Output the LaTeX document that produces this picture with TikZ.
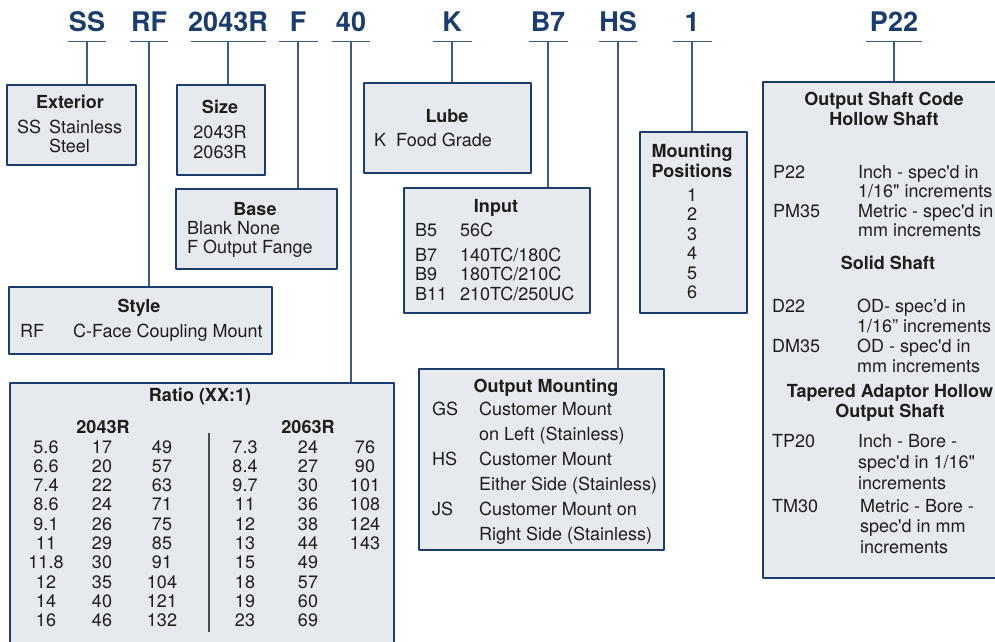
\documentclass[tikz,border=0pt]{standalone}
\usepackage{fontspec}
\setmainfont{TeX Gyre Heros}
\definecolor{navy}{HTML}{1B3D6B}
\definecolor{boxfill}{HTML}{E6E9EE}
\definecolor{ink}{HTML}{1E1E1E}
\newcommand\sqt{\textquotesingle}
\newcommand\dqt{\textquotedbl}
\newcommand\lstack[1]{\begin{tabular}[t]{@{}l@{}}#1\end{tabular}}
\newcommand\cstack[1]{\begin{tabular}[t]{@{}c@{}}#1\end{tabular}}
\begin{document}
\begin{tikzpicture}[x=1pt,y=-1pt,line join=round,
    font=\fontsize{18}{19.5}\selectfont,
    code/.style={font=\fontsize{27}{27}\selectfont\bfseries,text=navy,inner sep=0pt,anchor=base},
    box/.style={draw=navy,fill=boxfill,line width=2.2pt,anchor=north west,inner sep=0pt},
    link/.style={draw=navy!85,line width=1.3pt},
    txt/.style={text=ink,inner sep=0pt,anchor=base west},
    ttl/.style={text=ink,inner sep=0pt,anchor=base,font=\fontsize{18}{19.5}\selectfont\bfseries},
    col/.style={text=ink,inner sep=0pt,anchor=base,font=\fontsize{18}{19.3}\selectfont}]
    \def\codelink#1#2#3{\draw[link] ([xshift=-#2pt,yshift=-10.5pt]#1.base)--([xshift=#2pt,yshift=-10.5pt]#1.base);
        \draw[link] ([yshift=-10.5pt]#1.base)--(#1.base |- #3.north);}
    \useasboundingbox (0,0) rectangle (995,641);
    \clip (0,0) rectangle (995,641);
    % code letters on top
    \node[code] (cSS) at (87,31) {SS};
    \node[code] (cRF) at (149,31) {RF};
    \node[code] (cSize) at (228,31) {2043R};
    \node[code] (cF) at (298,31) {F};
    \node[code] (cRatio) at (351,31) {40};
    \node[code] (cK) at (452,31) {K};
    \node[code] (cB7) at (548,31) {B7};
    \node[code] (cHS) at (618,31) {HS};
    \node[code] (cOne) at (692,31) {1};
    \node[code] (cP22) at (894,31) {P22};
    % boxes
    \node[box,minimum width=129,minimum height=80] (ext) at (6,84) {};
    \node[box,minimum width=88,minimum height=90] (size) at (176,84) {};
    \node[box,minimum width=167,minimum height=90] (lube) at (363,82) {};
    \node[box,minimum width=161,minimum height=80] (base) at (175,188) {};
    \node[box,minimum width=263,minimum height=67] (style) at (8,286) {};
    \node[box,minimum width=186,minimum height=125] (input) at (403,187) {};
    \node[box,minimum width=107,minimum height=181] (mount) at (639,131) {};
    \node[box,minimum width=245,minimum height=496] (shaft) at (762,81) {};
    \node[box,minimum width=245,minimum height=181] (outmount) at (418,368) {};
    \node[box,minimum width=384,minimum height=290] (ratio) at (9,382) {};
    % connectors
    \codelink{cSS}{19}{ext}
    \codelink{cRF}{19}{style}
    \codelink{cSize}{37.5}{size}
    \codelink{cF}{19.5}{base}
    \codelink{cRatio}{19}{ratio}
    \codelink{cK}{19.5}{lube}
    \codelink{cB7}{19.5}{input}
    \codelink{cHS}{19}{outmount}
    \codelink{cOne}{19.5}{mount}
    \codelink{cP22}{28}{shaft}
    % exterior, size, lube, base, style
    \node[ttl] (extT) at (70,108) {Exterior};
    \node[txt] (extK) at (17,133) {SS};
    \node[txt] (extV) at (49,133) {\lstack{Stainless\\Steel}};
    \node[ttl] (sizeT) at (220,113) {Size};
    \node[col,font=\fontsize{18}{20}\selectfont] (sizeV) at (220,138) {\cstack{2043R\\2063R}};
    \node[ttl] (lubeT) at (447,122) {Lube};
    \node[txt] (lubeK) at (374,146) {K};
    \node[txt] (lubeV) at (396,146) {Food Grade};
    \node[ttl] (baseT) at (255,215) {Base};
    \node[txt] (baseV) at (187,234) {\lstack{Blank None\\F Output Fange}};
    \node[ttl] (styleT) at (139,312) {Style};
    \node[txt] (styleK) at (20,337) {RF};
    \node[txt] (styleV) at (73,337) {C-Face Coupling Mount};
    % input and mounting positions
    \node[ttl] (inputT) at (496,212) {Input};
    \node[txt] (inputK) at (415,236) {\lstack{B5\\[5.5pt]B7\\B9\\B11}};
    \node[txt] (inputV) at (460,236) {\lstack{56C\\[5.5pt]140TC/180C\\180TC/210C\\210TC/250UC}};
    \node[ttl,font=\fontsize{18}{20}\selectfont\bfseries] (mountT) at (692,157) {\cstack{Mounting\\Positions}};
    \node[col,font=\fontsize{18}{19.5}\selectfont] (mountV) at (692,201) {\cstack{1\\2\\3\\4\\5\\6}};
    % output shaft code
    \node[ttl,font=\fontsize{18}{20}\selectfont\bfseries] (shaftT) at (884,105) {\cstack{Output Shaft Code\\Hollow Shaft}};
    \node[txt] (shaftK1) at (773,178) {P22};
    \node[txt] (shaftK2) at (773,217) {PM35};
    \node[txt] (shaftV1) at (858,178) {\lstack{Inch - spec\sqt d in\\1/16\dqt{} increments\\Metric - spec\sqt d in\\mm increments}};
    \node[ttl] (solidT) at (888,269) {Solid Shaft};
    \node[txt] (shaftK3) at (772,312) {D22};
    \node[txt] (shaftK4) at (772,352) {DM35};
    \node[txt,font=\fontsize{18}{20}\selectfont] (shaftV2) at (857,312) {\lstack{OD- spec’d in\\1/16” increments\\OD - spec\sqt d in\\mm increments}};
    \node[ttl,font=\fontsize{18}{20}\selectfont\bfseries] (taperT) at (890,397) {\cstack{Tapered Adaptor Hollow\\Output Shaft}};
    \node[txt] (shaftK5) at (772,447) {TP20};
    \node[txt,font=\fontsize{18}{21}\selectfont] (shaftV3) at (858,447) {\lstack{Inch - Bore -\\spec\sqt d in 1/16\dqt\\increments}};
    \node[txt] (shaftK6) at (772,512) {TM30};
    \node[txt,font=\fontsize{18}{20.5}\selectfont] (shaftV4) at (860,512) {\lstack{Metric - Bore -\\spec\sqt d in mm\\increments}};
    % output mounting
    \node[ttl] (outT) at (546,392) {Output Mounting};
    \node[txt] (outK1) at (432,415) {GS};
    \node[txt] (outK2) at (432,465) {HS};
    \node[txt] (outK3) at (432,515) {JS};
    \node[txt,font=\fontsize{18}{25}\selectfont] (outV) at (479,415) {\lstack{Customer Mount\\on Left (Stainless)\\Customer Mount\\Either Side (Stainless)\\Customer Mount on\\Right Side (Stainless)}};
    % ratio table
    \node[ttl] (ratioT) at (200,401) {Ratio (XX:1)};
    \node[ttl] (ratioA) at (103,433) {2043R};
    \node[ttl] (ratioB) at (308,433) {2063R};
    \draw[draw=ink!80,line width=1.5pt] (209,433)--(209,632);
    \node[col] (r1) at (46,453) {\cstack{5.6\\6.6\\7.4\\8.6\\9.1\\11\\11.8\\12\\14\\16}};
    \node[col] (r2) at (102,453) {\cstack{17\\20\\22\\24\\26\\29\\30\\35\\40\\46}};
    \node[col] (r3) at (162,453) {\cstack{49\\57\\63\\71\\75\\85\\91\\104\\121\\132}};
    \node[col] (r4) at (245,453) {\cstack{7.3\\8.4\\9.7\\11\\12\\13\\15\\18\\19\\23}};
    \node[col] (r5) at (308,453) {\cstack{24\\27\\30\\36\\38\\44\\49\\57\\60\\69}};
    \node[col] (r6) at (365,453) {\cstack{76\\90\\101\\108\\124\\143}};
\end{tikzpicture}
\end{document}
